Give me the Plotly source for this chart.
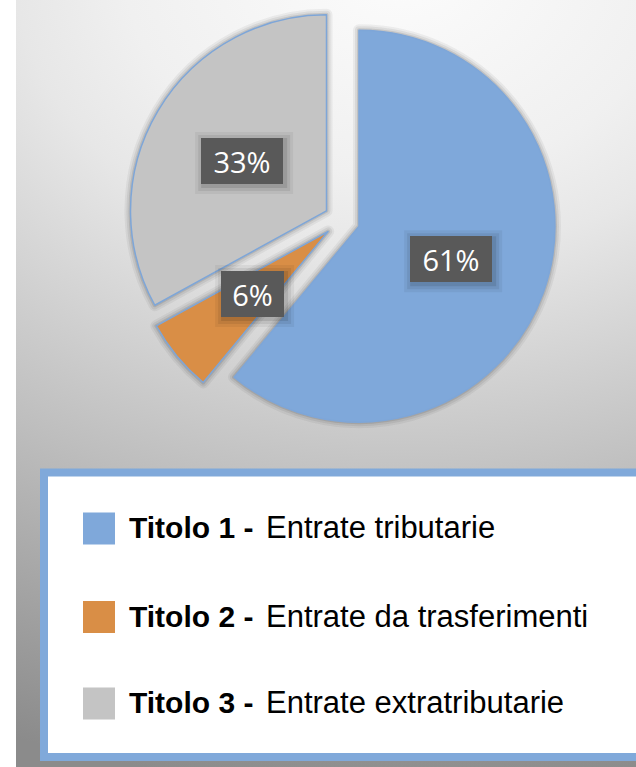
import base64
import math
import plotly.graph_objects as go

# ---------------- data ----------------
categories = ["Titolo 1", "Titolo 2", "Titolo 3"]
descriptions = ["Entrate tributarie", "Entrate da trasferimenti", "Entrate extratributarie"]
values = [61, 6, 33]
colors = ["#7FA8DA", "#D98E46", "#C4C4C4"]

# ---------------- layout constants ----------------
W, H = 636, 767
PULL = 0.092
BOX = (128, 6, 556, 434)  # pie domain box in pixels (x0, y0, x1, y1)
dom_x = [BOX[0] / W, BOX[2] / W]
dom_y = [1 - BOX[3] / H, 1 - BOX[1] / H]
CX = (BOX[0] + BOX[2]) / 2
CY = (BOX[1] + BOX[3]) / 2
R = (BOX[2] - BOX[0]) / 2 / (1 + PULL)

fig = go.Figure()

pie_common = dict(
    values=values,
    labels=categories,
    sort=False,
    direction="clockwise",
    rotation=0,
    pull=[PULL] * len(values),
    domain=dict(x=dom_x, y=dom_y),
    textinfo="none",
    showlegend=False,
)

# soft shadow layers
for w, a in [(12, 0.06), (8, 0.08), (4, 0.12)]:
    fig.add_trace(go.Pie(
        marker=dict(colors=["rgba(0,0,0,0)"] * len(values),
                    line=dict(color=f"rgba(40,40,40,{a})", width=w)),
        hoverinfo="skip",
        **pie_common,
    ))

fig.add_trace(go.Pie(
    marker=dict(colors=colors, line=dict(color="#7EA6D8", width=1.5)),
    hoverinfo="label+percent",
    **pie_common,
))

shapes = []
annotations = []

# percentage labels in dark boxes, placed along each slice bisector
total = sum(values)
cum = 0
for v in values:
    mid = (cum + v / 2) / total
    cum += v
    th = 2 * math.pi * mid
    dx, dy = math.sin(th), -math.cos(th)
    dist = (PULL + 0.5) * R
    px, py = CX + dist * dx, CY + dist * dy
    txt = f"{v}%"
    bw = 53 + 19 * (len(str(v)) - 1)
    bh = 36
    # shadow rectangles
    for grow, a in [(8, 0.05), (5, 0.07), (2, 0.10)]:
        hw = bw / 2 + 5 + grow
        hh = bh / 2 + 5 + grow
        shapes.append(dict(
            type="rect", xref="paper", yref="paper", layer="above",
            x0=(px - hw + 2) / W, x1=(px + hw + 2) / W,
            y0=1 - (py + hh + 2) / H, y1=1 - (py - hh + 2) / H,
            fillcolor=f"rgba(0,0,0,{a})", line=dict(width=0),
        ))
    annotations.append(dict(
        x=px / W, y=1 - py / H, xref="paper", yref="paper",
        text=txt, showarrow=False,
        font=dict(family="Open Sans", size=29, color="white"),
        bgcolor="#595959", borderpad=5, borderwidth=0,
        width=bw, height=bh, xanchor="center", yanchor="middle",
    ))

# ---------------- custom legend ----------------
shapes.append(dict(
    type="rect", xref="paper", yref="paper", layer="above",
    x0=44 / W, x1=641 / W, y0=1 - 757 / H, y1=1 - 472.5 / H,
    fillcolor="white", line=dict(color="#80A9DA", width=8),
))
row_y = [528.5, 617, 703.5]
for cat, desc, col, yc in zip(categories, descriptions, colors, row_y):
    shapes.append(dict(
        type="rect", xref="paper", yref="paper", layer="above",
        x0=83 / W, x1=115 / W, y0=1 - (yc + 16) / H, y1=1 - (yc - 16) / H,
        fillcolor=col, line=dict(width=0),
    ))
    annotations.append(dict(
        x=127 / W, y=1 - (yc - 1) / H, xref="paper", yref="paper",
        xanchor="left", yanchor="middle", showarrow=False,
        text=f"<b>{cat} -</b>",
        font=dict(family="Liberation Sans, Arial", size=30, color="#000000"),
    ))
    annotations.append(dict(
        x=264 / W, y=1 - (yc - 1) / H, xref="paper", yref="paper",
        xanchor="left", yanchor="middle", showarrow=False,
        text=desc,
        font=dict(family="Liberation Sans, Arial", size=31, color="#000000"),
    ))

# ---------------- gradient background ----------------
svg = (
    '<svg xmlns="http://www.w3.org/2000/svg" width="620" height="767" '
    'viewBox="0 0 620 767" preserveAspectRatio="none">'
    '<defs><radialGradient id="g" gradientUnits="userSpaceOnUse" cx="384" cy="-30" r="820" '
    'gradientTransform="translate(384,-30) scale(1.34,1) translate(-384,30)">'
    '<stop offset="0" stop-color="#FCFCFC"/>'
    '<stop offset="0.25" stop-color="#F0F0F0"/>'
    '<stop offset="0.35" stop-color="#E7E7E7"/>'
    '<stop offset="0.65" stop-color="#BEBEBE"/>'
    '<stop offset="1" stop-color="#8B8B8B"/>'
    '</radialGradient></defs>'
    '<rect x="0" y="0" width="620" height="767" fill="url(#g)"/></svg>'
)
src = "data:image/svg+xml;base64," + base64.b64encode(svg.encode()).decode()

fig.update_layout(
    width=W, height=H,
    margin=dict(l=0, r=0, t=0, b=0),
    paper_bgcolor="white",
    plot_bgcolor="white",
    shapes=shapes,
    annotations=annotations,
    images=[dict(
        source=src, xref="paper", yref="paper",
        x=16 / W, y=1, sizex=620 / W, sizey=1,
        xanchor="left", yanchor="top", sizing="stretch", layer="below",
    )],
    showlegend=False,
)

fig.write_html(
    "out.html",
    config={"displayModeBar": False},
    post_script="document.body.style.margin='0';document.body.style.overflow='hidden';",
)
